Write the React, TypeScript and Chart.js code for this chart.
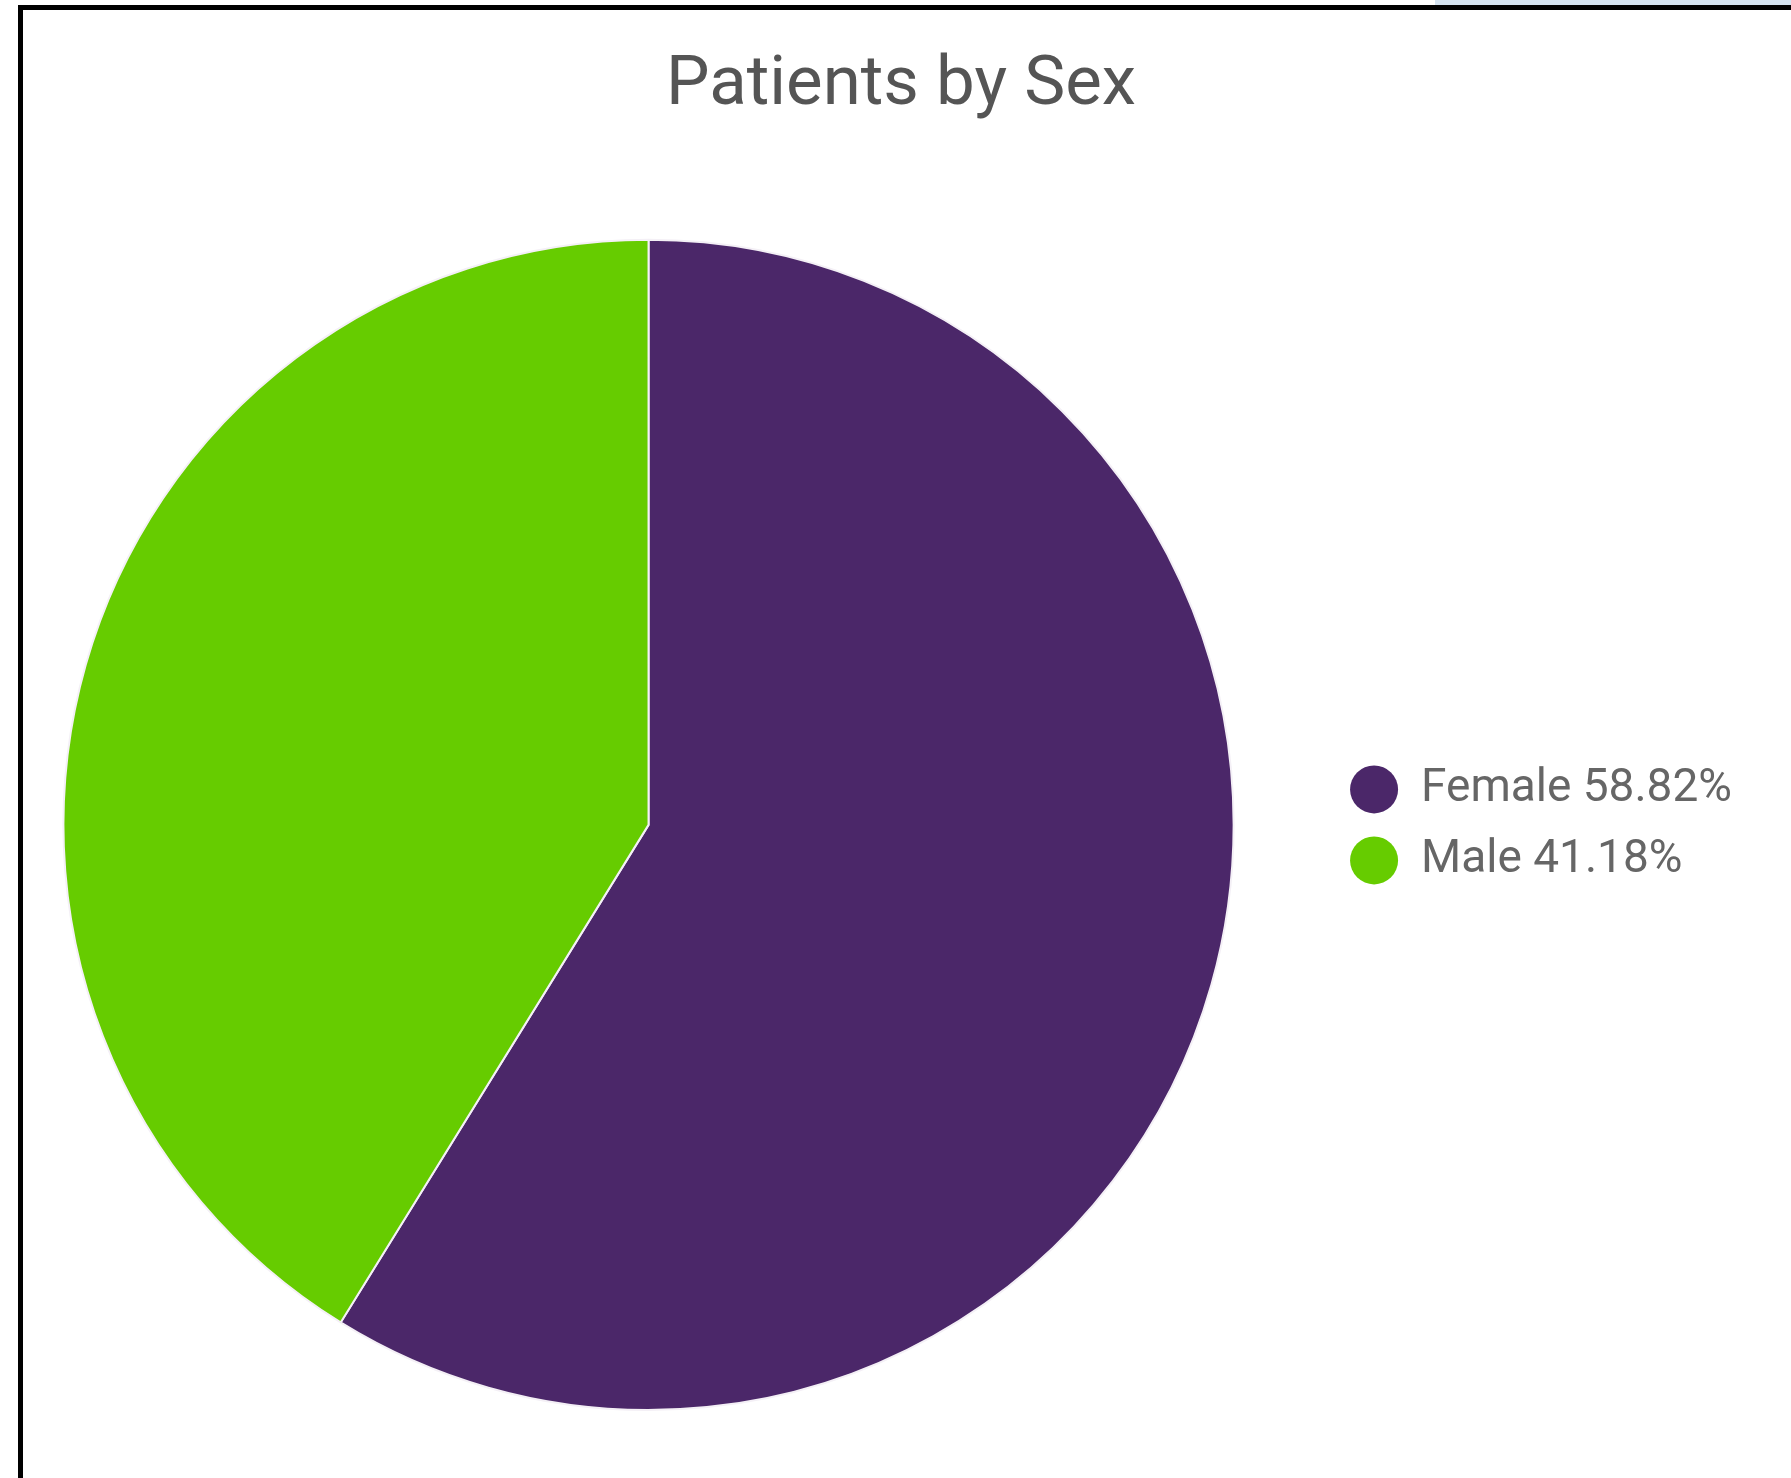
import React, { useEffect, useRef } from "react";
import { Chart, registerables } from "chart.js";

Chart.register(...registerables);

const TITLE = "Patients by Sex";
const categories = ["Female", "Male"];
const percentValues = [58.82, 41.18];
const sliceColors = ["#4b2769", "#66cc00"];

// widen the legend box (space to the right of the items) so the full-width title centres like the original
const legendExtraWidth = {
  id: "legendExtraWidth",
  beforeInit(chart: any) {
    const originalFit = chart.legend.fit;
    chart.legend.fit = function fit() {
      originalFit.bind(chart.legend)();
      this.width += 90;
    };
  },
};

export default function App() {
  const canvasRef = useRef<HTMLCanvasElement | null>(null);

  useEffect(() => {
    const canvas = canvasRef.current;
    if (!canvas) return;
    const chart = new Chart(canvas, {
      type: "pie",
      data: {
        labels: categories,
        datasets: [
          {
            data: percentValues,
            backgroundColor: sliceColors,
            borderColor: "#f4f0f6",
            borderWidth: 2,
          },
        ],
      },
      plugins: [legendExtraWidth],
      options: {
        animation: false,
        responsive: true,
        maintainAspectRatio: false,
        layout: { padding: { top: 0, bottom: 67, left: 0, right: 0 } },
        plugins: {
          tooltip: { enabled: false },
          title: {
            display: true,
            text: TITLE,
            color: "#555555",
            font: { family: "Roboto", size: 69, weight: "normal" },
            padding: { top: 45, bottom: 111 },
          },
          legend: {
            display: true,
            position: "right",
            fullSize: false,
            labels: {
              color: "#666666",
              font: { family: "Roboto", size: 46 },
              boxWidth: 48,
              boxHeight: 48,
              padding: 23,
              generateLabels: (ch: any) =>
                (ch.data.labels as string[]).map((label, i) => ({
                  text: `${label} ${percentValues[i].toFixed(2)}%`,
                  fillStyle: sliceColors[i],
                  strokeStyle: sliceColors[i],
                  fontColor: "#666666",
                  lineWidth: 0,
                  borderRadius: 24,
                  hidden: false,
                  index: i,
                })),
            },
          },
        },
      },
    });
    return () => chart.destroy();
  }, []);

  return (
    <div
      style={{
        position: "absolute",
        left: 0,
        top: 0,
        width: 1791,
        height: 1478,
        background: "#ffffff",
        overflow: "hidden",
      }}
    >
      <div
        style={{
          position: "absolute",
          left: 1435,
          top: 0,
          width: 356,
          height: 5,
          background: "#d5e3f0",
        }}
      />
      <div
        style={{
          position: "absolute",
          left: 18,
          top: 5,
          width: 1773,
          height: 1473,
          boxSizing: "border-box",
          borderTop: "5px solid #000",
          borderLeft: "5px solid #000",
        }}
      />
      <div
        style={{
          position: "absolute",
          left: -30,
          top: 0,
          width: 1862,
          height: 1478,
        }}
      >
        <canvas ref={canvasRef} />
      </div>
    </div>
  );
}
